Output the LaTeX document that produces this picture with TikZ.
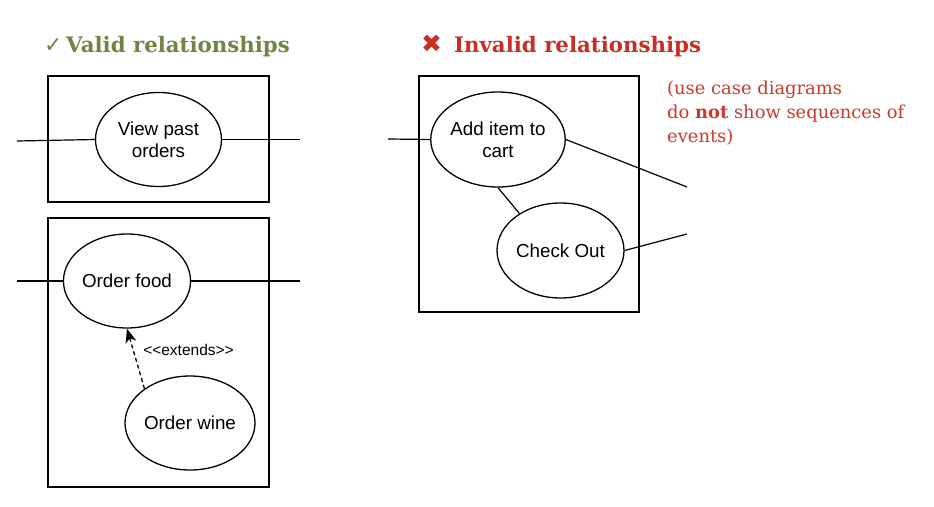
\documentclass[tikz,border=0pt]{standalone}
\usepackage{fontspec}
\setmainfont{Liberation Sans}
\newfontfamily\headfont{DejaVu Serif}
\newfontfamily\symfont{DejaVu Sans}
\usetikzlibrary{shapes.geometric,arrows.meta}
\definecolor{validgreen}{RGB}{112,132,70}
\definecolor{invalidred}{RGB}{200,45,38}
\definecolor{notered}{RGB}{205,55,45}
\tikzset{
  uc/.style={ellipse,draw,line width=1.3pt,minimum width=126pt,minimum height=94pt,inner sep=0pt,align=center,font=\fontsize{18.8}{22}\selectfont},
  sysbox/.style={draw,line width=1.1pt},
  assoc/.style={draw,line width=1.2pt},
  heading/.style={anchor=base west,inner sep=0pt,font=\headfont\bfseries\fontsize{21.3}{24}\selectfont}
}
\begin{document}
\begin{tikzpicture}[x=1pt,y=-1pt]
\useasboundingbox (0,0) rectangle (934,506);
% headings
\node[heading,text=validgreen] (hvalid) at (44,52) {{\symfont\mdseries\fontsize{22}{24}\selectfont ✓}\,Valid relationships};
\node[heading,text=invalidred] (hinvalid) at (421,52) {{\symfont\fontsize{25}{24}\selectfont ✖}\hspace{12pt}Invalid relationships};
\node[anchor=north west,inner sep=0pt,align=left,text=notered,font=\headfont\fontsize{17.9}{24}\selectfont] (note) at (667,81) {(use case diagrams\\do \textbf{not} show sequences of\\events)};
% boxes
\draw[sysbox] (48,76) rectangle (269,202);
\draw[sysbox] (48,218) rectangle (269,487);
\draw[sysbox] (419,76) rectangle (639,312);
% use cases
\node[uc] (vpo) at (158.5,139.5) {View past\\orders};
\node[uc] (of) at (127,281) {Order food};
\node[uc] (ow) at (190,423) {Order wine};
\node[uc,minimum width=128pt,minimum height=95pt] (ai) at (498,139.5) {Add item to\\cart};
\node[uc,minimum width=127pt,minimum height=95pt] (co) at (560.5,250.5) {Check Out};
% free ends
\coordinate (vpoL) at (17,141);
\coordinate (vpoR) at (300,139.5);
\coordinate (ofL) at (17,281);
\coordinate (ofR) at (300,281);
\coordinate (aiL) at (388,139);
\coordinate (aiR) at (687,187);
\coordinate (coR) at (687,234);
% connectors
\draw[assoc] (vpoL) -- (vpo.west);
\draw[assoc] (vpo.east) -- (vpoR);
\draw[assoc] (ofL) -- (of.west);
\draw[assoc] (of.east) -- (ofR);
\draw[assoc] (aiL) -- (ai.west);
\draw[assoc] (ai.east) -- (aiR);
\draw[assoc] (co.east) -- (coR);
\draw[assoc] (ai.south) -- (co.138);
\draw[line width=1.3pt,dash pattern=on 4pt off 3pt,-{Stealth[length=14pt,width=11pt,inset=4pt]}] (ow.143.7) -- (of.south);
\node[font=\fontsize{15.5}{18}\selectfont,inner sep=0pt] (ext) at (188.5,350) {<\kern0pt<extends>\kern0pt>};
\end{tikzpicture}
\end{document}
